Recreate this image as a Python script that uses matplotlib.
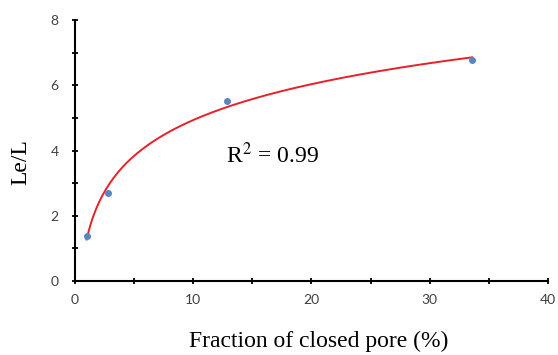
import matplotlib
matplotlib.use('Agg')
import matplotlib.pyplot as plt
from matplotlib.ticker import MultipleLocator
import numpy as np

# measured points
closed_pore = [1.0, 2.8, 12.85, 33.6]
le_over_l = [1.38, 2.69, 5.52, 6.78]
r2_text = 'R$^2$ = 0.99'

# logarithmic trend line fitted to the points
a, b = np.polyfit(np.log(closed_pore), le_over_l, 1)
xs = np.linspace(min(closed_pore), max(closed_pore), 200)
ys = a * np.log(xs) + b

fig = plt.figure(figsize=(5.58, 3.55), dpi=100)
ax = fig.add_axes([0.134, 0.208, 0.848, 0.736])

ax.plot(xs, ys, color='#e8202a', linewidth=1.4, zorder=2)
ax.scatter(closed_pore, le_over_l, s=16, color='#5b84c4', zorder=3)

ax.set_xlim(0, 40)
ax.set_ylim(0, 8)
ax.xaxis.set_major_locator(MultipleLocator(10))
ax.xaxis.set_minor_locator(MultipleLocator(5))
ax.yaxis.set_major_locator(MultipleLocator(2))
ax.yaxis.set_minor_locator(MultipleLocator(1))

for s in ['top', 'right']:
    ax.spines[s].set_visible(False)
for s in ['left', 'bottom']:
    ax.spines[s].set_linewidth(1.5)

ax.tick_params(which='both', direction='inout', length=5, width=1.3,
               labelsize=10, labelcolor='#404040')
ax.tick_params(axis='x', pad=7)
ax.tick_params(axis='y', pad=9)
for lab in ax.get_xticklabels() + ax.get_yticklabels():
    lab.set_family('Lato')

ax.set_xlabel('Fraction of closed pore (%)', family='Liberation Serif',
              fontsize=17, va='center')
ax.xaxis.set_label_coords(0.516, -0.23)
ax.set_ylabel('Le/L', family='Liberation Serif', fontsize=17,
              va='center', ha='center')
ax.yaxis.set_label_coords(-0.113, 0.455)

ax.text(0.32, 0.48, r2_text, transform=ax.transAxes, family='Liberation Serif',
        fontsize=17, va='center', math_fontfamily='stix')

fig.savefig('out.png', dpi=100)
